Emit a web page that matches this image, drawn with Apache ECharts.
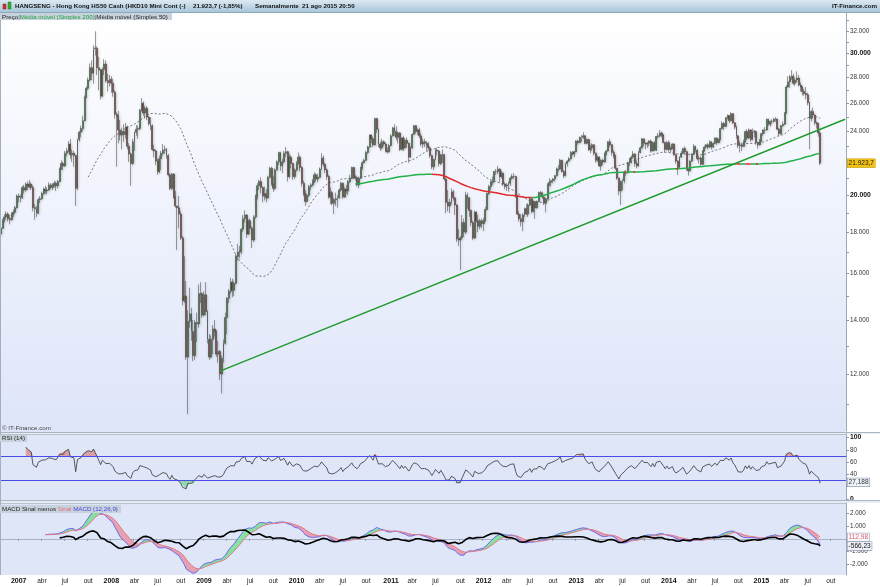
<!DOCTYPE html>
<html><head><meta charset="utf-8">
<script src="https://cdn.jsdelivr.net/npm/echarts@6/dist/echarts.min.js"></script>
<style>html,body{margin:0;padding:0;background:#fff}#c{width:880px;height:587px}</style>
</head><body><div id="c"></div>
<script>
// ---------- DATA ----------
const startDate = '2006-10-27';   // first weekly bar (Friday)
const futureWeeks = 14;            // empty slots after last bar
// weekly bars: [open, close, low, high]
const ohlc = [
// 2006
[17900,18200,17800,18300],[18200,18600,18150,18700],[18600,18800,18500,18950],[18800,18950,18650,19100],[18950,18700,18550,19050],
[18700,18650,18400,18900],[18650,18950,18600,19050],[18950,19050,18800,19200],[19050,19300,18950,19400],[19300,19950,19250,20050],
// 2007
[19950,19900,19600,20100],[19900,19850,19600,20050],[19850,20450,19800,20550],[20450,20300,20100,20600],[20300,20650,20200,20750],
[20650,20500,20300,20800],[20500,20650,20400,20900],[20650,20450,20300,20750],[20450,19300,19100,20600],[19300,19250,18650,19500],
[19250,19000,18800,19400],[19000,19750,18950,19850],[19750,19800,19550,19950],[19800,20100,19750,20200],[20100,20350,20000,20450],
[20350,20250,20100,20550],[20250,20300,20050,20450],[20300,20600,20250,20750],[20600,20450,20350,20700],[20450,20600,20300,20700],
[20600,20700,20450,20850],[20700,20550,20250,20800],[20550,20800,20400,20900],[20800,21550,20750,21650],[21550,21900,21500,22100],
[21900,21750,21500,22000],[21750,22550,21700,22700],[22550,22700,22350,22900],[22700,23150,22600,23350],[23150,22450,22200,23500],
[22450,22550,22000,22800],[22550,22400,21700,22700],[22400,20400,19400,22450],[20400,23450,20300,23500],[23450,23950,23300,24050],
[23950,24200,23600,24400],[24200,24750,24000,25100],[24750,26450,24700,26600],[26450,27150,26400,27300],[27150,27800,27000,28000],
[27800,28800,27700,29150],[28800,28350,27800,29400],[28350,30400,27500,30700],[30400,30450,29800,31950],[30450,28800,28200,30600],
[28800,28600,27000,29700],[28600,26550,26300,28700],[26550,28650,26500,28800],[28650,29100,28200,29500],[29100,27750,27600,29400],
[27750,27600,26900,28300],[27600,27850,27300,28200],
// 2008
[27850,27550,26800,28100],[27550,26850,26500,27900],[26850,25200,24900,27000],[25200,25100,21700,25350],[25100,24100,23200,25450],
[24100,23750,23400,24800],[23750,24000,22800,24250],[24000,23800,23300,24500],[23800,24300,23500,24600],[24300,23000,22800,24400],
[23000,22500,22000,23200],[22500,21900,20550,22600],[21900,23300,21800,23500],[23300,23950,22700,24000],[23950,24150,23700,24450],
[24150,24200,23500,24400],[24200,25500,24100,25600],[25500,26000,25400,26400],[26000,25300,25100,26150],[25300,25650,24900,25800],
[25650,25000,24800,25800],[25000,24550,24400,25100],[24550,24400,24100,25000],[24400,22800,22700,24500],[22800,22700,22300,23100],
[22700,22050,21800,22800],[22050,21400,21200,22200],[21400,22200,21300,22400],[22200,22550,21500,22700],[22550,22750,22400,23150],
[22750,22800,22500,23050],[22800,22400,22200,22900],[22400,21200,21100,22500],[21200,20400,20300,21300],[20400,21250,20300,21300],
[21250,19900,19800,21300],[19900,19400,19300,20250],[19400,19300,17100,19400],[19300,18950,18200,19950],[18950,17700,17600,19100],
[17700,14800,14600,17800],[14800,15000,14700,16800],[15000,12600,12500,15650],[12600,13950,10700,14400],[13950,14250,13700,15350],
[14250,13550,13200,14500],[13550,12650,12450,14000],[12650,13900,12500,14000],[13900,13850,13150,14300],[13850,15050,13700,15500],
[15050,15100,14700,15600],[15100,14200,14100,15150],
// 2009
[14200,15050,14150,15200],[15050,14350,14200,15600],[14350,13250,13100,14400],[13250,12600,12500,13450],[12600,13250,12550,13400],
[13250,13650,12700,13800],[13650,13550,13350,14000],[13550,12700,12600,13600],[12700,12800,12400,13200],[12800,12000,11800,12850],
[12000,12550,11350,12650],[12550,13100,12400,13250],[13100,14100,13050,14300],[14100,14900,13450,14950],[14900,15200,14700,15300],
[15200,15600,15100,15800],[15600,15250,14950,15750],[15250,15550,15000,15650],[15550,16800,15500,16900],[16800,17000,16600,17400],
[17000,17050,16700,17300],[17050,18150,16900,18200],[18150,18700,18000,18900],[18700,18900,18500,19150],[18900,17900,17700,18950],
[17900,18600,17850,18650],[18600,18200,17900,18700],[18200,17600,17200,18300],[17600,18800,17500,18900],[18800,19950,18700,20050],
[19950,20550,19750,20700],[20550,20800,20300,20900],[20800,20450,20100,21050],[20450,19950,19600,20500],[19950,20100,19700,20500],
[20100,19850,19600,20350],[19850,21050,19800,21150],[21050,21600,21000,21700],[21600,20650,20550,21700],[20650,20400,20200,21100],
[20400,21500,20300,21600],[21500,22000,21450,22100],[22000,22600,21800,22650],[22600,21750,21450,22650],[21750,22000,21300,22200],
[22000,22550,21900,22700],[22550,22650,22300,22950],[22650,21100,20800,22700],[21100,22300,21000,22500],[22300,21900,21600,22400],
[21900,21100,20900,21950],[21100,21500,20950,21600],
// 2010
[21500,21900,21400,22050],[21900,22300,21850,22600],[22300,21650,21400,22400],[21650,20700,20500,21750],[20700,20100,19950,20850],
[20100,19650,19400,20300],[19650,20000,19600,20100],[20000,20500,19900,20600],[20500,20600,20300,20700],[20600,20800,20500,20950],
[20800,21200,20700,21350],[21200,20950,20800,21300],[20950,21050,20750,21250],[21050,21550,21000,21650],[21550,22250,21500,22550],
[22250,21850,21700,22400],[21850,21500,21300,21950],[21500,21100,20900,21600],[21100,19900,19800,21200],[19900,20150,19500,20450],
[20150,19550,19450,20250],[19550,19750,18950,19850],[19750,19800,19400,20150],[19800,19850,19300,20000],[19850,20300,19800,20400],
[20300,20700,20200,20800],[20700,19900,19800,20750],[19900,20350,19850,20450],[20350,20250,20100,20600],[20250,20800,20000,20900],
[20800,21000,20700,21200],[21000,21650,20950,21700],[21650,21100,20950,21700],[21100,21000,20850,21200],[21000,20600,20500,21100],
[20600,21000,20400,21100],[21000,21650,20950,21700],[21650,21950,21500,22050],[21950,22100,21900,22200],[22100,22600,22050,22700],
[22600,22950,22500,23050],[22950,23750,22900,23800],[23750,23500,23200,23800],[23500,23100,22950,23650],[23100,24900,23050,24950],
[24900,24150,23900,24950],[24150,23150,22950,24200],[23150,22900,22700,23300],[22900,23300,22800,23500],[23300,23150,23000,23400],
[23150,22700,22600,23250],[22700,22650,22550,22900],[22650,23050,22600,23150],
// 2011
[23050,23700,23000,23800],[23700,24250,23650,24300],[24250,24000,23700,24500],[24000,23600,23400,24350],[23600,23900,23200,24000],
[23900,22800,22700,23950],[22800,23550,22750,23600],[23550,22900,22700,23700],[22900,23400,22850,23550],[23400,23200,22900,23600],
[23200,22300,21950,23250],[22300,22900,22250,23000],[22900,23800,22850,23850],[23800,24400,23750,24450],[24400,24000,23850,24450],
[24000,24100,23750,24200],[24100,23700,23550,24250],[23700,23150,23000,23900],[23150,23300,22900,23500],[23300,23200,22950,23500],
[23200,23100,22700,23350],[23100,22900,22750,23300],[22900,22400,22250,23000],[22400,21700,21550,22450],[21700,22150,21500,22200],
[22150,22750,22100,22850],[22750,22700,22400,22900],[22700,21900,21700,22750],[21900,22450,21800,22500],[22450,22450,21950,22800],
[22450,20950,20850,22500],[20950,19600,19000,21000],[19600,19400,19100,20300],[19400,19600,19000,19800],[19600,20200,19500,20400],
[20200,19850,19700,20300],[19850,19450,18900,19900],[19450,17650,17500,19500],[17650,17600,17300,18150],[17600,17700,16150,17800],
[17700,18500,17600,18900],[18500,18000,17750,18700],[18000,20000,17900,20200],[20000,19850,19250,20150],[19850,19150,18800,19900],
[19150,18500,18300,19200],[18500,17700,17600,18600],[17700,19050,17650,19150],[19050,18600,18500,19100],[18600,18300,18000,18900],
[18300,18600,18150,18700],[18600,18450,18200,18700],
// 2012
[18450,18600,18050,18750],[18600,19200,18550,19350],[19200,20100,19150,20150],[20100,20500,20000,20600],[20500,20750,20300,20850],
[20750,20800,20600,21100],[20800,21400,20700,21450],[21400,21400,21200,21550],[21400,21550,21250,21750],[21550,21100,20750,21600],
[21100,21300,21000,21450],[21300,20650,20550,21350],[20650,20550,20350,20750],[20550,20600,20250,20700],[20600,20700,20200,20800],
[20700,21000,20550,21100],[21000,21100,20900,21250],[21100,21100,20950,21300],[21100,19950,19850,21150],[19950,18950,18900,20050],
[18950,18700,18550,19100],[18700,18550,18300,18950],[18550,18900,18050,19000],[18900,19250,18800,19300],[19250,18950,18900,19500],
[18950,19450,18800,19550],[19450,19800,19400,19850],[19800,19100,19000,19850],[19100,19650,19050,19700],[19650,19300,18700,19650],
[19300,19650,19250,19700],[19650,20150,19600,20200],[20150,20100,19950,20250],[20100,19900,19800,20200],[19900,19550,19450,19950],
[19550,19800,19050,19850],[19800,20600,19750,20700],[20600,20750,20550,21000],[20750,20850,20500,20900],[20850,20950,20700,21000],
[20950,21150,20800,21200],[21150,21550,21100,21650],[21550,21550,21400,21800],[21550,22100,21500,22200],[22100,21400,21350,22150],
[21400,21150,21000,21500],[21150,21900,21100,21950],[21900,22050,21700,22100],[22050,22200,22000,22300],[22200,22600,22150,22700],
[22600,22500,22400,22700],[22500,22650,22300,22700],
// 2013
[22650,23350,22600,23400],[23350,23250,23100,23450],[23250,23600,23200,23650],[23600,23600,23300,23750],[23600,23700,23500,23950],
[23700,23200,23150,23750],[23200,23450,23150,23500],[23450,22800,22700,23500],[22800,22900,22550,23100],[22900,23100,22700,23200],
[23100,22550,22400,23150],[22550,22100,21950,22600],[22100,22300,22000,22400],[22300,21750,21700,22350],[21750,22100,21450,22150],
[22100,22000,21800,22200],[22000,22550,21950,22600],[22550,22700,22400,22750],[22700,23300,22650,23350],[23300,23100,22950,23500],
[23100,22600,22400,23150],[22600,22400,22200,22750],[22400,21600,21500,22450],[21600,21000,20900,21650],[21000,20250,20000,21050],
[20250,20800,19450,20850],[20800,20850,20300,20950],[20850,21300,20700,21450],[21300,21350,21150,21500],[21350,21950,21300,22000],
[21950,22200,21750,22250],[22200,22300,21900,22400],[22300,22500,22200,22700],[22500,21900,21700,22550],[21900,21750,21600,22100],
[21750,22600,21700,22700],[22600,22900,22550,23000],[22900,23500,22850,23550],[23500,23200,23000,23500],[23200,23150,22800,23250],
[23150,23200,22900,23300],[23200,23350,23000,23400],[23350,22700,22600,23450],[22700,23250,22650,23300],[23250,22750,22700,23350],
[22750,23650,22700,23700],[23650,23700,23500,23900],[23700,23900,23600,24100],[23900,23750,23600,24000],[23750,23250,23200,23800],
[23250,22800,22600,23300],[22800,23250,22750,23350],
// 2014
[23250,22800,22650,23400],[22800,22850,22600,23000],[22850,23150,22800,23200],[23150,22450,22400,23200],[22450,22050,21900,22500],
[22050,21650,21200,22100],[21650,22300,21600,22350],[22300,22550,22250,22700],[22550,22850,22500,22900],[22850,22650,22500,23000],
[22650,21550,21450,22700],[21550,21450,21150,21600],[21450,22050,21400,22100],[22050,22500,22000,22550],[22500,23000,22450,23150],
[23000,22750,22600,23050],[22750,22200,22100,22800],[22200,22250,21900,22400],[22250,21850,21750,22350],[21850,22700,21800,22750],
[22700,22950,22650,23050],[22950,23100,22850,23150],[23100,22950,22800,23200],[22950,23300,22900,23400],[23300,22950,22800,23350],
[22950,23200,22900,23250],[23200,23550,23150,23600],[23550,23250,23100,23600],[23250,23450,23200,23500],[23450,24200,23400,24250],
[24200,24550,24150,24700],[24550,24350,24100,24650],[24350,24950,24300,25000],[24950,25100,24850,25200],[25100,24750,24600,25150],
[24750,25250,24700,25350],[25250,24600,24500,25300],[24600,24300,24150,24650],[24300,23700,23500,24400],[23700,23050,22900,23750],
[23050,23100,22600,23350],[23100,23000,22700,23250],[23000,23300,22950,23450],[23300,24000,23250,24050],[24000,23550,23400,24150],
[23550,24100,23500,24200],[24100,23450,23300,24150],[23450,23950,23400,24200],[23950,24000,23600,24100],[24000,23250,23100,24050],
[23250,23100,22850,23300],[23100,23350,23050,23500],
// 2015
[23350,23850,23300,23900],[23850,24100,23700,24150],[24100,24100,23850,24300],[24100,24850,24050,24900],[24850,24500,24400,24900],
[24500,24700,24350,24750],[24700,24700,24500,24850],[24700,24850,24600,24950],[24850,24850,24700,25000],[24850,24150,24100,24900],
[24150,23850,23700,24250],[23850,24400,23800,24450],[24400,24500,24300,24700],[24500,25300,24450,25350],[25300,27250,25250,27400],
[27250,27650,27200,28100],[27650,28050,27200,28200],[28050,28100,27800,28600],[28100,27550,27400,28300],[27550,27800,27350,28000],
[27800,27950,27600,28500],[27950,27400,27300,28200],[27400,27250,26900,27600],[27250,26900,26600,27300],[26900,26750,26600,27100],
[26750,26650,26300,27250],[26650,26050,25850,26800],[26050,24900,22800,26100],[24900,25400,24700,25500],[25400,25150,24900,25700],
[25150,24600,24450,25200],[24600,24550,24200,24700],[24550,23900,23650,24600],[23900,21923.7,21800,24050]
];
const priceLabelTicks = [12000,14000,16000,18000,20000,24000,26000,28000,30000,32000];
const priceMinorTicks = [11000,12000,13000,14000,15000,16000,17000,18000,19000,20000,21000,22000,23000,24000,25000,26000,27000,28000,29000,30000,31000,32000,33000];
const boldPriceTicks = [20000,30000];
const priceRange = [10196,33666];
const rsiTicks = [0,40,60,80,100];
const rsiLevels = [70,30];
const rsiRange = [-1.63,105.86];
const macdTicks = [-2000,-1000,1000,2000];
const macdRange = [-2828,2797];
const trendPoints = [{i:123, v:12100},{i:474, v:24850}];
const lastPrice = 21923.7, lastRsi = 27.188, lastSignal = 112.98, lastMacdDiff = -566.23;
const monthLabels = {3:'abr',6:'jul',9:'out'};

// ---------- helpers ----------
const L = v => Math.log(v);
function fmt(v,d){const s=Math.abs(v).toFixed(d);let [a,b]=s.split('.');a=a.replace(/\B(?=(\d{3})+(?!\d))/g,'.');return (v<0?'-':'')+a+(b?','+b:'');}
const N = ohlc.length;
const cats = [];
const t0 = Date.parse(startDate+'T00:00:00Z');
for(let k=0;k<N+futureWeeks;k++){cats.push(new Date(t0+k*7*864e5).toISOString().slice(0,10));}
const lastCat = cats[cats.length-1];
const monthOf = k => +cats[k].slice(5,7)-1;
const isLabel = k => k>0 && monthOf(k)%3===0 && monthOf(k)!==monthOf(k-1);

// ---------- indicators from closes ----------
const closes = ohlc.map(r=>r[1]);
function sma(n){return closes.map((_,i)=>{if(i<n-1)return null;let s=0;for(let j=i-n+1;j<=i;j++)s+=closes[j];return s/n;});}
const sma50 = sma(50), sma200 = sma(200);
const s200up = new Array(N).fill(null), s200dn = new Array(N).fill(null);
for(let i=1;i<N;i++){ if(sma200[i]==null||sma200[i-1]==null) continue;
  if(sma200[i]>=sma200[i-1]){s200up[i-1]=sma200[i-1];s200up[i]=sma200[i];} else {s200dn[i-1]=sma200[i-1];s200dn[i]=sma200[i];} }
// RSI 14 (Wilder)
const rsi = new Array(N).fill(null);
{let ag=0,al=0;for(let i=1;i<=14;i++){const d=closes[i]-closes[i-1];ag+=Math.max(d,0);al+=Math.max(-d,0);}ag/=14;al/=14;
 rsi[14]=100-100/(1+ag/al);
 for(let i=15;i<N;i++){const d=closes[i]-closes[i-1];ag=(ag*13+Math.max(d,0))/14;al=(al*13+Math.max(-d,0))/14;rsi[i]=al===0?100:100-100/(1+ag/al);}}
// MACD 12,26,9
const macd = new Array(N).fill(null), sig = new Array(N).fill(null), hist = new Array(N).fill(null);
{let e12=closes[0],e26=closes[0],s=null;const a12=2/13,a26=2/27,a9=2/10;
 for(let i=0;i<N;i++){e12=i?e12+a12*(closes[i]-e12):e12;e26=i?e26+a26*(closes[i]-e26):e26;
  if(i>=25){const m=e12-e26;s=(s==null)?m:s+a9*(m-s);macd[i]=m;sig[i]=s;if(i>=33)hist[i]=m-s;}}}
const mBase = macd.map((m,i)=>m==null?null:Math.min(m,sig[i]));
const mUp = macd.map((m,i)=>m==null?null:Math.max(0,m-sig[i]));
const mDn = macd.map((m,i)=>m==null?null:Math.max(0,sig[i]-m));
const r70b = rsi.map(v=>v==null?null:70), r70 = rsi.map(v=>v==null?null:Math.max(0,v-70));
const r30b = rsi.map(v=>v==null?null:Math.min(v,30)), r30 = rsi.map(v=>v==null?null:30-Math.min(v,30));

// ---------- chart ----------
const FONT = "'Liberation Sans', Arial, sans-serif";
const chart = echarts.init(document.getElementById('c'));
const hiddenX = g => ({type:'category',gridIndex:g,data:cats,show:false,boundaryGap:true});
const yCommon = {position:'right',splitLine:{show:false},axisLine:{show:true,lineStyle:{color:'#9aa8b8',width:1}},
  axisTick:{show:true,length:3,lineStyle:{color:'#8a98a8'}}};
const mp = (coordY, text, color, bg, border) => ({symbol:'rect',symbolSize:1,silent:true,itemStyle:{color:'rgba(0,0,0,0)'},
  data:[{coord:[lastCat,coordY],label:{show:true,position:'right',distance:2,formatter:text,color:color,backgroundColor:bg,
  borderColor:border,borderWidth:0.6,padding:[1,1,0,1],fontSize:6.5,fontFamily:FONT}}]});
const invisible = {lineStyle:{opacity:0},showSymbol:false,symbol:'none'};
const hdr = (x,text,align) => ({type:'text',z:62,silent:true,style:{x:x,y:6.5,text:text,fill:'#111',align:align||'left',
  fontSize:6.2,fontWeight:'bold',fontFamily:FONT,verticalAlign:'middle'}});

const option = {
  animation:false, backgroundColor:'#ffffff', textStyle:{fontFamily:FONT},
  grid:[{left:0,top:13,width:846,height:418},{left:0,top:434,width:846,height:66},{left:0,top:503,width:846,height:72}],
  xAxis:[hiddenX(0),hiddenX(1),
    {type:'category',gridIndex:2,data:cats,boundaryGap:true,splitLine:{show:false},
     axisLine:{lineStyle:{color:'#a8b4c4'}},
     axisTick:{show:true,interval:isLabel,length:2,lineStyle:{color:'#8a98a8'}},
     axisLabel:{interval:isLabel,fontSize:6.5,color:'#222',margin:3,
       formatter:v=>{const m=+v.slice(5,7)-1;return m===0?'{y|'+v.slice(0,4)+'}':monthLabels[m];},
       rich:{y:{fontWeight:'bold',fontSize:7,color:'#111'}}}}],
  yAxis:[
    Object.assign({},yCommon,{type:'value',gridIndex:0,min:L(priceRange[0]),max:L(priceRange[1]),
      axisTick:Object.assign({},yCommon.axisTick,{customValues:priceMinorTicks.map(L)}),
      axisLabel:{customValues:priceLabelTicks.map(L),fontSize:6.3,color:'#333',margin:4,
        formatter:v=>{const p=Math.round(Math.exp(v)/1000)*1000;const t=fmt(p,0);return boldPriceTicks.includes(p)?'{b|'+t+'}':t;},
        rich:{b:{fontWeight:'bold',fontSize:6.8,color:'#111'}}}}),
    Object.assign({},yCommon,{type:'value',gridIndex:1,min:rsiRange[0],max:rsiRange[1],
      axisTick:Object.assign({},yCommon.axisTick,{customValues:[0,20,40,60,80,100]}),
      axisLabel:{customValues:rsiTicks,fontSize:6.3,color:'#333',margin:4,
        formatter:v=>(v===0||v===100)?'{b|'+v+'}':String(v),rich:{b:{fontWeight:'bold',fontSize:6.8,color:'#111'}}}}),
    Object.assign({},yCommon,{type:'value',gridIndex:2,min:macdRange[0],max:macdRange[1],
      axisTick:Object.assign({},yCommon.axisTick,{customValues:macdTicks}),
      axisLabel:{customValues:macdTicks,fontSize:6.3,color:'#333',margin:4,formatter:v=>fmt(v,0)}})
  ],
  series:[
    {name:'Preço',type:'candlestick',xAxisIndex:0,yAxisIndex:0,barWidth:'80%',
     data:ohlc.map(r=>r.map(L)),
     itemStyle:{color:'#3f9a3f',color0:'#983c3c',borderColor:'#2a2a2a',borderColor0:'#2a2a2a',borderWidth:0.45,
       shadowColor:'rgba(80,80,80,0.45)',shadowBlur:2.5,shadowOffsetX:0.6,shadowOffsetY:0.6},
     markPoint:mp(L(lastPrice),fmt(lastPrice,1),'#222','#f3c211','#c49a00')},
    {name:'Média móvel (Simples 50)',type:'line',xAxisIndex:0,yAxisIndex:0,data:sma50.map(v=>v==null?null:L(v)),
     showSymbol:false,symbol:'none',lineStyle:{color:'#555',width:0.8,type:[2,2]}},
    {name:'Média móvel (Simples 200)',type:'line',xAxisIndex:0,yAxisIndex:0,data:s200up.map(v=>v==null?null:L(v)),
     showSymbol:false,symbol:'none',lineStyle:{color:'#22b04a',width:1.5}},
    {name:'SMA200 desc',type:'line',xAxisIndex:0,yAxisIndex:0,data:s200dn.map(v=>v==null?null:L(v)),
     showSymbol:false,symbol:'none',lineStyle:{color:'#e02828',width:1.5}},
    {name:'Tendência',type:'line',xAxisIndex:0,yAxisIndex:0,showSymbol:false,symbol:'none',
     data:trendPoints.map(p=>[cats[p.i],L(p.v)]),lineStyle:{color:'#1f9a2c',width:1.4}},
    // RSI
    Object.assign({type:'line',xAxisIndex:1,yAxisIndex:1,stack:'r70',data:r70b},invisible),
    Object.assign({type:'line',xAxisIndex:1,yAxisIndex:1,stack:'r70',data:r70,areaStyle:{color:'#d9a0a8',opacity:1}},invisible),
    Object.assign({type:'line',xAxisIndex:1,yAxisIndex:1,stack:'r30',data:r30b},invisible),
    Object.assign({type:'line',xAxisIndex:1,yAxisIndex:1,stack:'r30',data:r30,areaStyle:{color:'#90d8a8',opacity:1}},invisible),
    {name:'RSI (14)',type:'line',xAxisIndex:1,yAxisIndex:1,data:rsi,showSymbol:false,symbol:'none',
     lineStyle:{color:'#333',width:0.8},
     markLine:{silent:true,symbol:'none',label:{show:false},lineStyle:{color:'#4a4ae6',width:1,type:'solid'},
       data:rsiLevels.map(v=>({yAxis:v}))},
     markPoint:mp(lastRsi,fmt(lastRsi,3),'#333','#eef1f8','#8a98b0')},
    // MACD
    Object.assign({type:'line',xAxisIndex:2,yAxisIndex:2,stack:'m',stackStrategy:'all',data:mBase},invisible),
    Object.assign({type:'line',xAxisIndex:2,yAxisIndex:2,stack:'m',stackStrategy:'all',data:mUp,areaStyle:{color:'#86e0a0',opacity:1}},invisible),
    Object.assign({type:'line',xAxisIndex:2,yAxisIndex:2,stack:'m',stackStrategy:'all',data:mDn,areaStyle:{color:'#e6a0b0',opacity:1}},invisible),
    {name:'MACD (12,26,9)',type:'line',xAxisIndex:2,yAxisIndex:2,data:macd,showSymbol:false,symbol:'none',lineStyle:{color:'#6a6af0',width:1}},
    {name:'Sinal',type:'line',xAxisIndex:2,yAxisIndex:2,data:sig,showSymbol:false,symbol:'none',lineStyle:{color:'#e07888',width:1},
     markPoint:mp(lastSignal,fmt(lastSignal,2),'#e06070','#f7f8fc','#9aa8b8')},
    {name:'MACD Sinal menos',type:'line',xAxisIndex:2,yAxisIndex:2,data:hist,showSymbol:false,symbol:'none',lineStyle:{color:'#000',width:1.6},
     markPoint:mp(lastMacdDiff,fmt(lastMacdDiff,2),'#111','#eef1f8','#8a98b0')}
  ],
  graphic:[
    {type:'rect',z:-10,silent:true,shape:{x:0,y:12,width:846,height:420},
     style:{fill:new echarts.graphic.LinearGradient(0,0,0,1,[{offset:0,color:'#ffffff'},{offset:1,color:'#dee5f9'}])}},
    {type:'rect',z:-10,silent:true,shape:{x:0,y:432,width:880,height:2},style:{fill:'#e8edf4'}},
    {type:'rect',z:-10,silent:true,shape:{x:0,y:434,width:846,height:66},style:{fill:'#dfe6f8'}},
    {type:'rect',z:-10,silent:true,shape:{x:0,y:500,width:880,height:3},style:{fill:'#e8edf4'}},
    {type:'rect',z:-10,silent:true,shape:{x:0,y:503,width:846,height:72},style:{fill:'#dfe6f8'}},
    {type:'line',z:50,silent:true,shape:{x1:0,y1:432.5,x2:880,y2:432.5},style:{stroke:'#a9b5c3',lineWidth:1}},
    {type:'line',z:50,silent:true,shape:{x1:0,y1:434.5,x2:846,y2:434.5},style:{stroke:'#b8c3d0',lineWidth:1}},
    {type:'line',z:50,silent:true,shape:{x1:0,y1:500.5,x2:880,y2:500.5},style:{stroke:'#a9b5c3',lineWidth:1}},
    {type:'line',z:50,silent:true,shape:{x1:0,y1:503.5,x2:846,y2:503.5},style:{stroke:'#b8c3d0',lineWidth:1}},
    {type:'line',z:50,silent:true,shape:{x1:0.5,y1:12,x2:0.5,y2:575},style:{stroke:'#a0b0c0',lineWidth:1}},
    // header bar
    {type:'rect',z:60,silent:true,shape:{x:0,y:0,width:880,height:12},
     style:{fill:new echarts.graphic.LinearGradient(0,0,0,1,[{offset:0,color:'#dce9f2'},{offset:1,color:'#a9c6da'}])}},
    {type:'line',z:61,silent:true,shape:{x1:0,y1:12.5,x2:880,y2:12.5},style:{stroke:'#8ea8bc',lineWidth:1}},
    {type:'rect',z:62,silent:true,shape:{x:3,y:4,width:3,height:5},style:{fill:'#d83030',stroke:'#802020',lineWidth:0.5}},
    {type:'rect',z:62,silent:true,shape:{x:8,y:2,width:3,height:7},style:{fill:'#30b030',stroke:'#207020',lineWidth:0.5}},
    hdr(15,'HANGSENG - Hong Kong HS50 Cash (HKD10 Mini Cont (-)'),
    hdr(193,fmt(lastPrice,1)+' (-1,85%)'),
    hdr(255,'Semanalmente  21 ago 2015 20:50'),
    hdr(877,'IT-Finance.com','right'),
    // legends
    {type:'rect',z:62,silent:true,shape:{x:0,y:13,width:172,height:7},style:{fill:'#c8d2dc'}},
    {type:'text',z:63,silent:true,style:{x:2,y:16.8,verticalAlign:'middle',fontFamily:FONT,fontSize:6.2,
      text:'{a|Preço}{s||}{g|Média móvel (Simples 200)}{s||}{a|Média móvel (Simples 50)}',
      rich:{a:{fill:'#222',fontSize:6.2,fontFamily:FONT},g:{fill:'#22a040',fontSize:6.2,fontFamily:FONT},s:{fill:'#666',fontSize:6.2,fontFamily:FONT}}}},
    {type:'text',z:63,silent:true,style:{x:2,y:428,verticalAlign:'middle',text:'© IT-Finance.com',fill:'#444',fontSize:6.2,fontFamily:FONT}},
    {type:'rect',z:62,silent:true,shape:{x:0,y:435,width:27,height:7},style:{fill:'#c8d2dc'}},
    {type:'text',z:63,silent:true,style:{x:2,y:438.6,verticalAlign:'middle',text:'RSI (14)',fill:'#222',fontSize:6.2,fontFamily:FONT}},
    {type:'rect',z:62,silent:true,shape:{x:0,y:505,width:121,height:8},style:{fill:'#c8d2dc'}},
    {type:'text',z:63,silent:true,style:{x:2,y:509,verticalAlign:'middle',fontFamily:FONT,fontSize:6.2,
      text:'{a|MACD Sinal menos }{p|Sinal }{b|MACD (12,26,9)}',
      rich:{a:{fill:'#222',fontSize:6.2,fontFamily:FONT},p:{fill:'#e07080',fontSize:6.2,fontFamily:FONT},b:{fill:'#4848e0',fontSize:6.2,fontFamily:FONT}}}}
  ]
};
chart.setOption(option);
</script></body></html>
